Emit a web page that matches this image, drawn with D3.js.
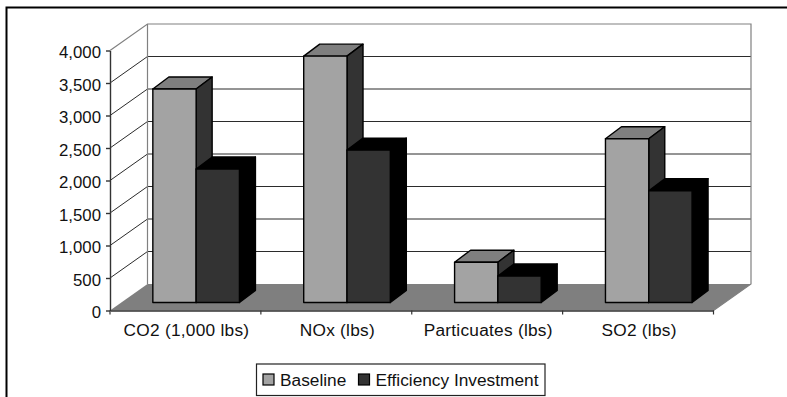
<!DOCTYPE html>
<html>
<head>
<meta charset="utf-8">
<script src="https://cdn.jsdelivr.net/npm/d3@7"></script>
<style>
  html, body { margin: 0; padding: 0; background: #fff; }
  svg { display: block; }
  text { font-family: "Liberation Sans", Arial, sans-serif; font-size: 16.8px; fill: #111; }
  .x-label text, .legend-label { font-size: 17.3px; }
  .x-label text { letter-spacing: 0.25px; }
</style>
</head>
<body>
<svg id="chart" width="787" height="397"></svg>
<script>
// chart values
const categories = ["CO2 (1,000 lbs)", "NOx (lbs)", "Particuates (lbs)", "SO2 (lbs)"];
const seriesNames = ["Baseline", "Efficiency Investment"];
const baseline = [3285, 3790, 620, 2520];
const efficiency = [2054, 2345, 408, 1720];
const yTicks = [0, 500, 1000, 1500, 2000, 2500, 3000, 3500, 4000];

const svg = d3.select("#chart");

// scales
const x0 = d3.scaleBand().domain(categories).range([110, 713.5]);
const x1 = d3.scaleBand().domain(seriesNames).range([-43.3, 43.3]);
const y = d3.scaleLinear().domain([0, 4000]).range([310.5, 50.5]);

// 3d offsets
const wall = { dx: 37.5, dy: -26.5 };
const front = { dx: 10.7, dy: -8 };
const depth = { dx: 16, dy: -12 };

const fills = {
  Baseline: { front: "#a3a3a3", top: "#7f7f7f", side: "#333333" },
  "Efficiency Investment": { front: "#333333", top: "#000000", side: "#000000" },
};

const pts = (arr) => arr.map((p) => p.join(",")).join(" ");

// outer frame, open on the right and at the bottom
svg.append("path")
  .attr("d", "M6.5,400V7.5H790")
  .attr("fill", "none")
  .attr("stroke", "#000")
  .attr("stroke-width", 2);

const [xl, xr] = x0.range();
const y0 = y(0);
const yt = y(4000);

// floor
svg.append("polygon")
  .attr("points", pts([
    [xl, y0],
    [xl + wall.dx, y0 + wall.dy],
    [xr + wall.dx, y0 + wall.dy],
    [xr, y0],
  ]))
  .attr("fill", "#7f7f7f");

// gridlines along side wall and back wall
svg.append("g")
  .selectAll("polyline")
  .data(yTicks.filter((d) => d > 0 && d < 4000))
  .enter()
  .append("polyline")
  .attr("points", (d) => pts([
    [xl, y(d)],
    [xl + wall.dx, y(d) + wall.dy],
    [xr + wall.dx, y(d) + wall.dy],
  ]))
  .attr("fill", "none")
  .attr("stroke", "#2b2b2b")
  .attr("stroke-width", 1);

// wall outline
svg.append("polyline")
  .attr("points", pts([
    [xl, yt],
    [xl + wall.dx, yt + wall.dy],
    [xr + wall.dx, yt + wall.dy],
    [xr + wall.dx, y0 + wall.dy],
    [xr, y0],
  ]))
  .attr("fill", "none")
  .attr("stroke", "#808080")
  .attr("stroke-width", 1.2);
svg.append("line")
  .attr("x1", xl + wall.dx).attr("x2", xl + wall.dx)
  .attr("y1", yt + wall.dy).attr("y2", y0 + wall.dy)
  .attr("stroke", "#808080")
  .attr("stroke-width", 1.2);

// bars
const rows = categories.flatMap((c, i) => [
  { cat: c, key: seriesNames[0], value: baseline[i] },
  { cat: c, key: seriesNames[1], value: efficiency[i] },
]);

const bars = svg.append("g")
  .attr("stroke", "#000")
  .attr("stroke-width", 1.4)
  .attr("stroke-linejoin", "round")
  .selectAll("g")
  .data(rows)
  .enter()
  .append("g");

const barLeft = (d) => x0(d.cat) + x0.bandwidth() / 2 + x1(d.key) + front.dx;
const barRight = (d) => barLeft(d) + x1.bandwidth();
const barTop = (d) => y(d.value) + front.dy;
const barBottom = y(0) + front.dy;

bars.append("polygon")
  .attr("points", (d) => pts([
    [barLeft(d), barTop(d)],
    [barLeft(d) + depth.dx, barTop(d) + depth.dy],
    [barRight(d) + depth.dx, barTop(d) + depth.dy],
    [barRight(d), barTop(d)],
  ]))
  .attr("fill", (d) => fills[d.key].top);

bars.append("polygon")
  .attr("points", (d) => pts([
    [barRight(d), barTop(d)],
    [barRight(d) + depth.dx, barTop(d) + depth.dy],
    [barRight(d) + depth.dx, barBottom + depth.dy],
    [barRight(d), barBottom],
  ]))
  .attr("fill", (d) => fills[d.key].side);

bars.append("rect")
  .attr("x", barLeft)
  .attr("y", barTop)
  .attr("width", x1.bandwidth())
  .attr("height", (d) => barBottom - barTop(d))
  .attr("fill", (d) => fills[d.key].front);

// axes
const yAxis = svg.append("g")
  .attr("transform", `translate(${xl},0)`)
  .call(d3.axisLeft(y).tickValues(yTicks).tickFormat(d3.format(",")).tickSize(4).tickSizeOuter(0).tickPadding(5));
yAxis.selectAll("text").attr("dy", "0.42em");

const xAxis = svg.append("g")
  .attr("class", "x-label")
  .attr("transform", `translate(1,${y0})`)
  .call(d3.axisBottom(x0).tickSize(0).tickPadding(13));
xAxis.select(".domain").attr("transform", "translate(-1,0)");

[yAxis, xAxis].forEach((a) => {
  a.attr("font-family", null).attr("font-size", null);
  a.selectAll("path, line").attr("stroke", "#333").attr("stroke-width", 1.4);
});

// x ticks sit between the categories
svg.append("g")
  .selectAll("line")
  .data(categories.map((c) => x0(c)).concat(xr))
  .enter()
  .append("line")
  .attr("x1", (d) => d).attr("x2", (d) => d)
  .attr("y1", y0).attr("y2", y0 + 4)
  .attr("stroke", "#333")
  .attr("stroke-width", 1.2);

// legend
svg.append("rect")
  .attr("x", 256.5).attr("y", 364)
  .attr("width", 288.5).attr("height", 31.5)
  .attr("fill", "#fff")
  .attr("stroke", "#222")
  .attr("stroke-width", 1.2);

const legendX = d3.scaleOrdinal().domain(seriesNames).range([263, 358.5]);
const legend = svg.append("g")
  .selectAll("g")
  .data(seriesNames)
  .enter()
  .append("g")
  .attr("transform", (d) => `translate(${legendX(d)},374)`);

legend.append("rect")
  .attr("width", 11)
  .attr("height", 11)
  .attr("fill", (d) => fills[d].front)
  .attr("stroke", "#000")
  .attr("stroke-width", 1.2);

legend.append("text")
  .attr("class", "legend-label")
  .attr("x", 17)
  .attr("y", 12)
  .text((d) => d);
</script>
</body>
</html>
